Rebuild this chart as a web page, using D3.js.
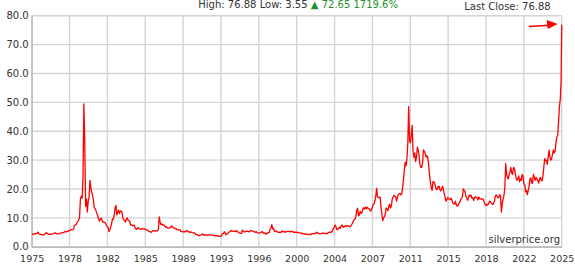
<!DOCTYPE html>
<html>
<head>
<meta charset="utf-8">
<script src="https://cdn.jsdelivr.net/npm/d3@7/dist/d3.min.js"></script>
<style>
  html, body { margin: 0; padding: 0; background: #fff; }
  svg { display: block; font-family: "DejaVu Sans", Verdana, sans-serif; }
</style>
</head>
<body>
<svg id="chart" width="575" height="271"></svg>
<script>
// Monthly silver prices (USD/oz), Jan 1975 onward
const prices1975s = [
  4.225, 4.45, 4.30, 4.40, 4.55, 4.45, 4.70, 5.05, 4.45, 4.35, 4.25, 4.15,
  4.05, 4.10, 4.15, 4.40, 4.75, 4.80, 4.65, 4.30, 4.30, 4.35, 4.30, 4.40,
  4.45, 4.55, 4.70, 4.80, 4.60, 4.45, 4.45, 4.45, 4.55, 4.70, 4.80, 4.80,
  4.90, 5.00, 5.30, 5.10, 5.15, 5.35, 5.40, 5.55, 5.70, 6.00, 5.85, 5.95,
  6.10, 7.30, 7.50, 7.70, 8.30, 8.70, 9.20, 10.0, 16.5, 17.5, 16.8, 24.0
];
const prices1980s = [
  49.45, 36.5, 14.0, 16.5, 12.0, 15.8, 17.0, 23.0, 20.5, 19.0, 17.8, 16.0,
  13.5, 13.2, 12.4, 11.5, 10.8, 9.5, 8.9, 9.6, 9.9, 9.2, 8.5, 8.6,
  8.3, 8.2, 7.4, 7.0, 6.7, 5.2, 5.9, 6.9, 8.0, 9.6, 9.5, 10.9,
  13.5, 14.3, 11.0, 11.9, 12.7, 11.5, 12.2, 12.4, 12.0, 10.0, 9.3, 9.2,
  8.5, 9.5, 10.0, 9.2, 9.0, 8.8, 7.5, 7.6, 7.3, 7.3, 7.5, 6.6,
  6.2, 6.0, 6.5, 6.6, 6.2, 6.1, 6.2, 6.3, 6.1, 6.2, 6.2, 5.9,
  5.9, 5.8, 5.6, 5.2, 5.2, 5.1, 5.0, 5.3, 5.6, 5.6, 5.6, 5.4,
  5.5, 5.5, 5.9, 10.3, 8.5, 7.6, 7.9, 7.5, 7.6, 7.3, 6.8, 6.9,
  6.7, 6.4, 6.4, 6.5, 6.6, 7.2, 7.0, 6.7, 6.4, 6.3, 6.3, 6.1,
  5.9, 5.9, 5.8, 5.8, 5.3, 5.2, 5.2, 5.1, 5.2, 5.1, 5.5, 5.6
];
const prices1990s = [
  5.2, 5.3, 5.0, 5.0, 5.1, 4.9, 4.8, 4.8, 4.8, 4.3, 4.2, 4.2,
  3.9, 3.8, 4.0, 4.0, 4.1, 4.4, 4.2, 3.9, 4.1, 4.1, 4.1, 3.9,
  4.1, 4.1, 4.1, 4.0, 4.0, 4.0, 3.9, 3.8, 3.8, 3.8, 3.8, 3.7,
  3.7, 3.55, 3.6, 3.9, 4.5, 4.5, 5.2, 4.8, 4.1, 4.3, 4.5, 4.9,
  5.1, 5.3, 5.6, 5.3, 5.4, 5.4, 5.3, 5.2, 5.6, 5.3, 5.1, 4.8,
  4.7, 4.6, 4.6, 5.7, 5.5, 5.1, 5.1, 5.3, 5.4, 5.3, 5.2, 5.1,
  5.5, 5.6, 5.5, 5.4, 5.3, 5.1, 5.0, 5.2, 4.9, 4.8, 4.8, 4.8,
  4.8, 5.1, 5.2, 4.7, 4.8, 4.7, 4.3, 4.5, 4.7, 4.9, 4.9, 6.0,
  6.4, 7.6, 6.2, 6.3, 5.3, 5.4, 5.5, 5.2, 5.0, 5.0, 5.0, 4.9,
  5.2, 5.5, 5.1, 5.1, 5.3, 5.0, 5.2, 5.3, 5.3, 5.3, 5.1, 5.3
];
const prices2000s = [
  5.2, 5.3, 5.0, 5.0, 5.0, 5.0, 5.0, 4.9, 4.9, 4.8, 4.7, 4.6,
  4.7, 4.5, 4.4, 4.4, 4.4, 4.4, 4.3, 4.2, 4.3, 4.3, 4.1, 4.5,
  4.5, 4.4, 4.6, 4.5, 4.8, 5.0, 4.9, 4.5, 4.5, 4.4, 4.5, 4.6,
  4.8, 4.6, 4.5, 4.5, 4.6, 4.5, 4.8, 5.0, 5.1, 4.9, 5.2, 5.4,
  6.3, 6.7, 7.5, 7.0, 5.9, 5.9, 6.4, 6.7, 6.4, 7.2, 7.5, 7.0,
  6.7, 7.1, 7.3, 7.0, 7.3, 7.3, 7.1, 6.9, 7.0, 7.6, 8.1, 8.8,
  9.3, 9.6, 10.5, 12.6, 13.3, 10.7, 11.0, 12.3, 11.6, 11.7, 13.0, 13.5,
  13.0, 13.7, 13.2, 13.7, 13.3, 13.3, 12.8, 12.3, 12.8, 13.7, 14.7, 14.8,
  15.9, 17.5, 20.2, 17.3, 17.0, 17.0, 17.2, 13.9, 11.5, 9.0, 10.0, 10.4,
  11.3, 13.4, 13.0, 12.5, 14.0, 14.7, 13.4, 14.2, 16.5, 17.2, 17.8, 17.5
];
const prices2010s = [
  17.3, 15.8, 17.1, 18.0, 18.4, 18.4, 17.9, 18.4, 20.5, 23.4, 26.5, 29.3,
  28.0, 30.8, 36.0, 48.5, 36.5, 36.0, 38.5, 42.0, 33.0, 31.0, 32.5, 29.5,
  31.0, 34.5, 33.5, 31.5, 28.5, 27.5, 27.5, 29.0, 33.5, 33.0, 32.5, 31.0,
  31.5, 31.0, 28.5, 25.0, 22.5, 20.5, 19.5, 22.5, 22.5, 21.8, 20.8, 19.8,
  19.9, 20.8, 21.0, 19.8, 19.3, 19.8, 21.0, 19.8, 18.5, 17.2, 15.8, 16.2,
  17.0, 16.8, 16.3, 16.4, 16.8, 16.0, 15.0, 14.9, 14.8, 15.8, 14.5, 14.0,
  14.2, 15.0, 15.4, 16.3, 16.7, 17.2, 20.0, 19.5, 19.2, 17.6, 16.8, 16.1,
  17.0, 17.9, 17.5, 17.8, 16.8, 17.0, 16.0, 17.0, 17.3, 17.0, 17.0, 16.2,
  17.2, 16.6, 16.5, 16.6, 16.5, 16.5, 15.6, 14.8, 14.3, 14.6, 14.4, 14.8,
  15.6, 15.8, 15.2, 15.0, 14.6, 15.0, 15.8, 17.5, 17.9, 17.5, 17.0, 17.0
];
const prices2020s = [
  18.0, 17.5, 12.0, 15.0, 16.5, 17.8, 20.5, 28.8, 25.0, 24.0, 23.5, 25.0,
  26.0, 27.5, 25.5, 25.0, 27.5, 27.0, 25.5, 23.8, 23.0, 23.5, 24.5, 22.5,
  23.5, 23.0, 25.0, 24.5, 21.8, 21.5, 19.0, 19.5, 18.0, 19.5, 21.0, 23.5,
  23.8, 22.0, 22.0, 25.0, 24.0, 23.0, 24.0, 23.5, 23.0, 22.0, 23.5, 24.0,
  23.0, 22.8, 24.5, 27.5, 30.5, 29.8, 30.0, 28.5, 31.0, 33.5, 31.0, 30.0,
  30.5, 32.0, 33.5, 32.5, 33.0, 36.0, 38.0, 38.5, 43.0, 48.5, 51.0, 58.0
];
const startYear = 1975;
const lastClose = 76.88;
const lastDate = 2025.99;

const xTickLabels = ["1975","1978","1982","1985","1989","1993","1996","2000",
                     "2004","2007","2011","2015","2018","2022","2025"];
const yTicks = [0, 10, 20, 30, 40, 50, 60, 70, 80];

// ---- build series
const monthly = [].concat(prices1975s, prices1980s, prices1990s, prices2000s, prices2010s, prices2020s);
const data = monthly.map((v, i) => ({ t: startYear + i / 12 + 0.02, v }));
data.push({ t: lastDate, v: lastClose });

const svg = d3.select("#chart");
const W = 575, H = 271;
const m = { left: 31.7, right: W - 561.7, top: 15.7, bottom: H - 246.7 };

const x = d3.scaleLinear().domain([startYear, lastDate]).range([m.left, W - m.right]);
const y = d3.scaleLinear().domain([0, 80]).range([H - m.bottom, m.top]);

const xTickVals = xTickLabels.map((_, i) => startYear + i * (lastDate - startYear) / (xTickLabels.length - 1));

// grid
const grid = svg.append("g");
grid.selectAll("line.h").data(yTicks).join("line")
  .attr("x1", x.range()[0]).attr("x2", x.range()[1])
  .attr("y1", d => y(d)).attr("y2", d => y(d))
  .attr("stroke", "#d4d4d4").attr("stroke-width", 1.4);
grid.selectAll("line.v").data(xTickVals).join("line")
  .attr("x1", d => x(d)).attr("x2", d => x(d))
  .attr("y1", y.range()[0]).attr("y2", y.range()[1])
  .attr("stroke", "#d4d4d4").attr("stroke-width", 1.4);

// axes
const yAxis = d3.axisLeft(y).tickValues(yTicks).tickFormat(d => d.toFixed(1)).tickSize(0).tickPadding(3);
const gy = svg.append("g").attr("transform", `translate(${m.left},0)`).call(yAxis);
gy.select(".domain").attr("stroke", "#bbb").attr("stroke-width", 1.4);
gy.selectAll("text").attr("font-size", 10).attr("fill", "#333").attr("font-family", "DejaVu Sans");

const xAxis = d3.axisBottom(x).tickValues(xTickVals).tickFormat((d, i) => xTickLabels[i]).tickSize(0).tickPadding(9);
const gx = svg.append("g").attr("transform", `translate(0,${H - m.bottom})`).call(xAxis);
gx.select(".domain").attr("stroke", "#bbb").attr("stroke-width", 1.4);
gx.selectAll("text").attr("font-size", 9.5).attr("fill", "#333").attr("font-family", "DejaVu Sans");

// line
const line = d3.line().x(d => x(d.t)).y(d => y(d.v));
svg.append("path").datum(data)
  .attr("d", line).attr("fill", "none")
  .attr("stroke", "#ff0000").attr("stroke-width", 1.3).attr("stroke-linejoin", "round");

// arrow pointing at last close
const lx = x(lastDate), ly = y(lastClose);
svg.append("line")
  .attr("x1", lx - 33).attr("y1", ly + 1.8)
  .attr("x2", lx - 12).attr("y2", ly + 0.6)
  .attr("stroke", "#ff0000").attr("stroke-width", 1.4);
svg.append("path")
  .attr("d", `M${lx - 4},${ly - 0.6} L${lx - 15},${ly - 4.6} L${lx - 14},${ly + 4.4} Z`)
  .attr("fill", "#ff0000");

// header
const hi = d3.max(data, d => d.v), lo = d3.min(data, d => d.v);
const first = data[0].v;
const chg = Math.round((lastClose - first) * 100 - 0.001) / 100;
const pct = (lastClose - first) / first * 100;
const header = svg.append("text").attr("x", 198.3).attr("y", 8.3)
  .attr("font-size", 10).attr("fill", "#333");
header.append("tspan").text(`High: ${hi.toFixed(2)} Low: ${lo.toFixed(2)} `);
header.append("tspan").attr("fill", "#22922a").text(`\u25B2 ${chg.toFixed(2)} ${pct.toFixed(1)}%`);

svg.append("text").attr("x", 550.7).attr("y", 10).attr("text-anchor", "end")
  .attr("font-size", 10).attr("fill", "#333").text(`Last Close: ${lastClose.toFixed(2)}`);

svg.append("text").attr("x", 560).attr("y", 243).attr("text-anchor", "end")
  .attr("font-size", 10).attr("fill", "#333").text("silverprice.org");
</script>
</body>
</html>
